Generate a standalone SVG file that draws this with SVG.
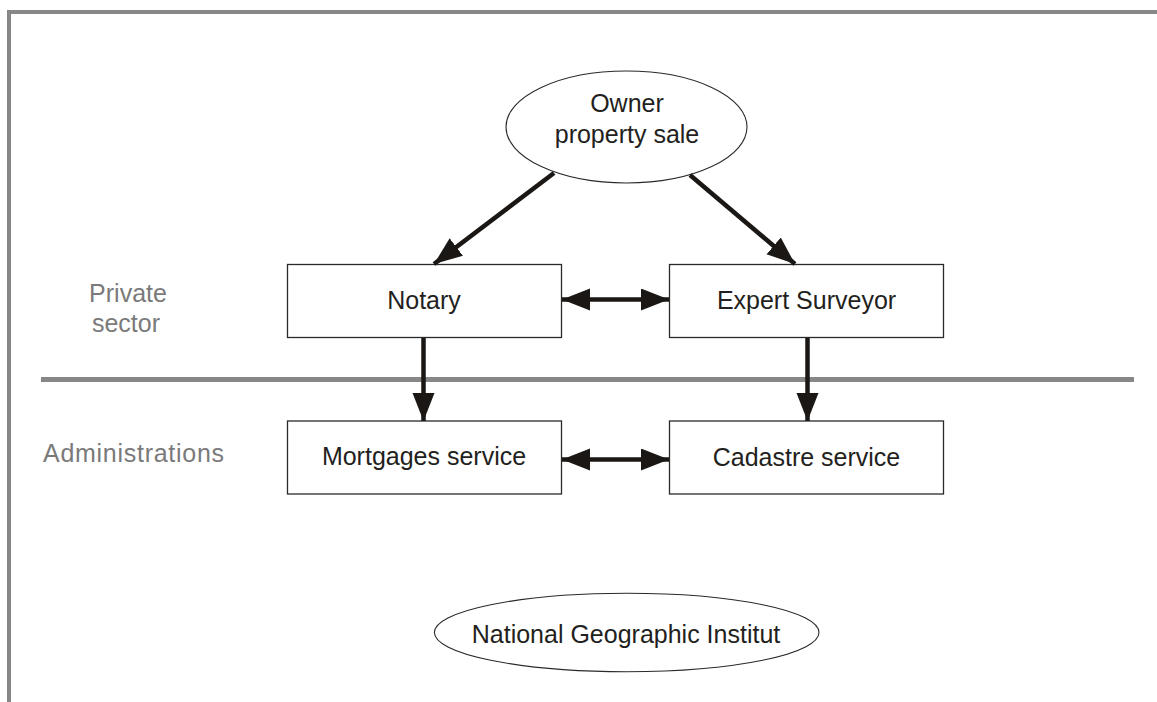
<svg xmlns="http://www.w3.org/2000/svg" width="1157" height="702" viewBox="0 0 1157 702">
<style>
  .frame { stroke: #878787; fill: none; }
  .box { fill: #ffffff; stroke: #2a2a2a; stroke-width: 1.3; }
  .ell { fill: #ffffff; stroke: #2a2a2a; stroke-width: 1.1; }
  .t { font-family: "Liberation Sans", Arial, sans-serif; font-size: 25px; fill: #231f20; text-anchor: middle; }
  .lbl { font-family: "Liberation Sans", Arial, sans-serif; font-size: 25px; fill: #7a7a7a; }
  .conn { stroke: #1a1715; stroke-width: 4.5; fill: none; }
</style>
<defs>
  <marker id="ah" markerUnits="userSpaceOnUse" markerWidth="30" markerHeight="24" refX="28" refY="11" orient="auto-start-reverse">
    <path d="M0,0 L28,11 L0,22 Z" fill="#1a1715"/>
  </marker>
</defs>
<rect width="1157" height="702" fill="#ffffff"/>
<g id="frame">
  <line class="frame" x1="7" y1="12" x2="1157" y2="12" stroke-width="4"/>
  <line class="frame" x1="9" y1="10" x2="9" y2="702" stroke-width="4"/>
  <line class="frame" x1="41" y1="379.5" x2="1134" y2="379.5" stroke-width="5"/>
</g>
<g id="labels">
  <text class="lbl" x="128" y="302" text-anchor="middle">Private</text>
  <text class="lbl" x="126" y="332" text-anchor="middle">sector</text>
  <text class="lbl" x="43" y="462" textLength="181" lengthAdjust="spacing">Administrations</text>
</g>
<g id="owner">
  <ellipse class="ell" cx="626.5" cy="127" rx="120.5" ry="56"/>
  <text class="t" x="627" y="112">Owner</text>
  <text class="t" x="627" y="143">property sale</text>
</g>
<g id="notary">
  <rect class="box" x="287.5" y="264.5" width="274" height="73"/>
  <text class="t" x="424" y="308.5">Notary</text>
</g>
<g id="expert">
  <rect class="box" x="669.5" y="264.5" width="274" height="73"/>
  <text class="t" x="806.5" y="308.5">Expert Surveyor</text>
</g>
<g id="mortgages">
  <rect class="box" x="287.5" y="421" width="274" height="73"/>
  <text class="t" x="424" y="465">Mortgages service</text>
</g>
<g id="cadastre">
  <rect class="box" x="669.5" y="421" width="274" height="73"/>
  <text class="t" x="806.5" y="466">Cadastre service</text>
</g>
<g id="ngi">
  <ellipse class="ell" cx="626.7" cy="632.5" rx="192.3" ry="39.2"/>
  <text class="t" x="626" y="643">National Geographic Institut</text>
</g>
<g id="connectors">
  <line class="conn" x1="554" y1="173" x2="434" y2="264" marker-end="url(#ah)"/>
  <line class="conn" x1="690" y1="175" x2="795" y2="264" marker-end="url(#ah)"/>
  <line class="conn" x1="562" y1="299.5" x2="669" y2="299.5" marker-start="url(#ah)" marker-end="url(#ah)"/>
  <line class="conn" x1="562" y1="459.5" x2="669" y2="459.5" marker-start="url(#ah)" marker-end="url(#ah)"/>
  <line class="conn" x1="423.5" y1="338" x2="423.5" y2="421" marker-end="url(#ah)"/>
  <line class="conn" x1="807.5" y1="338" x2="807.5" y2="421" marker-end="url(#ah)"/>
</g>
</svg>
